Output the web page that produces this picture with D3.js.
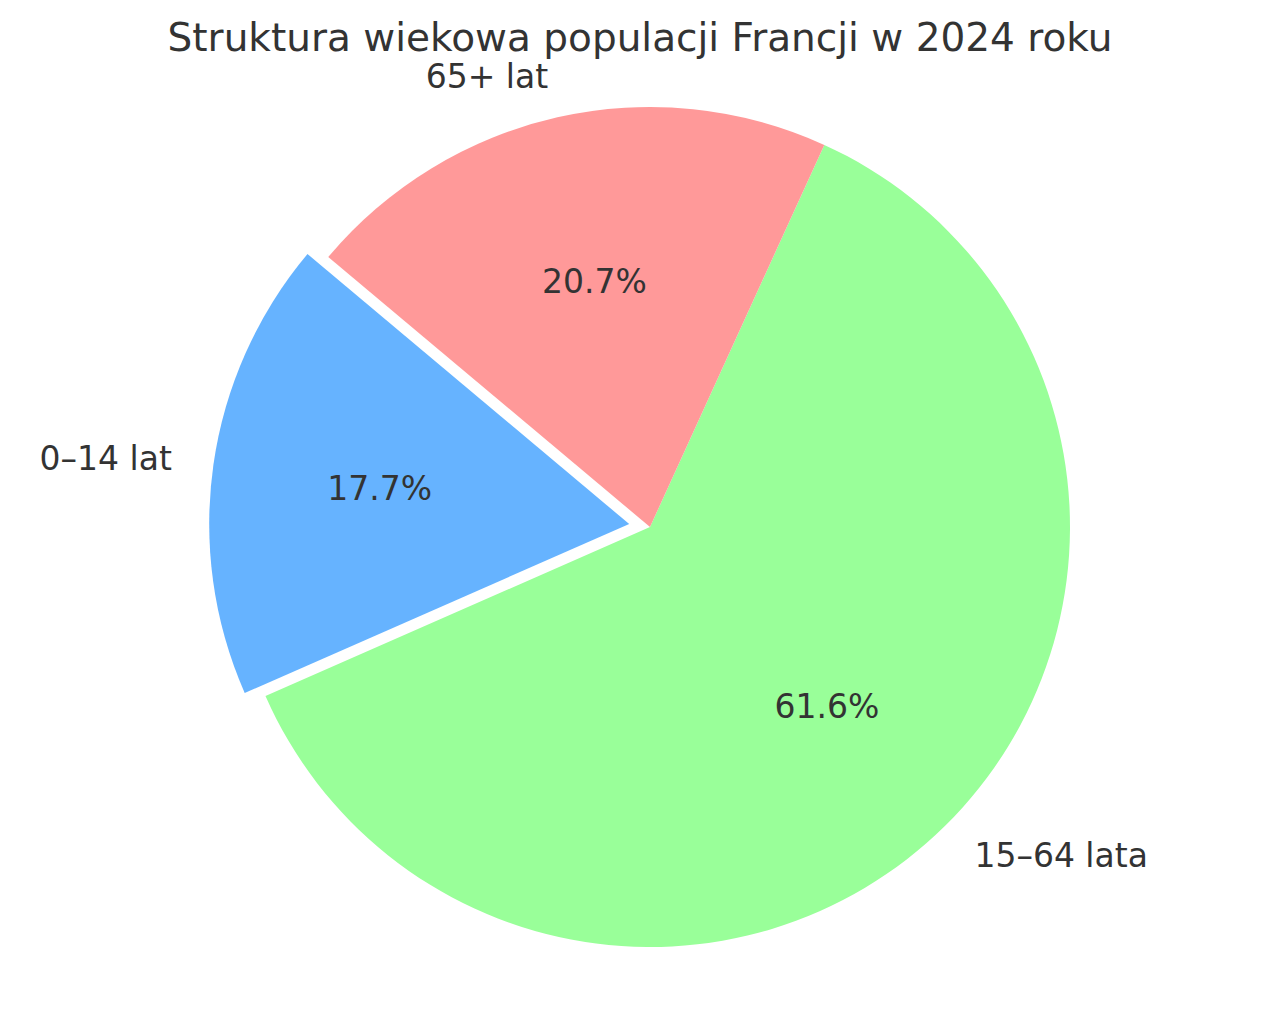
<!DOCTYPE html>
<html><head><meta charset="utf-8">
<script src="https://cdn.jsdelivr.net/npm/d3@7"></script>
<style>body{margin:0;background:#fff}svg{display:block}text{font-family:"DejaVu Sans",sans-serif;fill:#333}</style>
</head><body>
<script>
const categories = ["0–14 lat", "15–64 lata", "65+ lat"];
const values = [17.7, 61.6, 20.7];
const colors = ["#66b3ff", "#99ff99", "#ff9999"];
const explode = [0.05, 0, 0];
const title = "Struktura wiekowa populacji Francji w 2024 roku";

const W = 1280, H = 1010, cx = 650, cy = 527, R = 420;
const svg = d3.select("body").append("svg").attr("width", W).attr("height", H);

// matplotlib: startangle 140 deg, counterclockwise
const total = d3.sum(values);
const angleScale = d3.scaleLinear().domain([0, total]).range([140, 140 + 360]);
let acc = 0;
const slices = values.map((v, i) => {
  const a0 = angleScale(acc); acc += v; const a1 = angleScale(acc);
  return {i, v, a0, a1, mid: (a0 + a1) / 2};
});
const rad = d => d * Math.PI / 180;
const toD3 = a => rad(90 - a);
const arc = d3.arc().innerRadius(0).outerRadius(R);

const g = svg.append("g");
slices.forEach(s => {
  const off = explode[s.i] * R;
  const dx = off * Math.cos(rad(s.mid)), dy = -off * Math.sin(rad(s.mid));
  const sx = cx + dx, sy = cy + dy;
  g.append("path")
    .attr("d", arc({startAngle: toD3(s.a1), endAngle: toD3(s.a0)}))
    .attr("transform", `translate(${sx},${sy})`)
    .attr("fill", colors[s.i]);
  const c = Math.cos(rad(s.mid)), sn = Math.sin(rad(s.mid));
  svg.append("text")
    .attr("x", sx + 0.6 * R * c).attr("y", sy - 0.6 * R * sn)
    .attr("text-anchor", "middle").attr("dominant-baseline", "central")
    .attr("font-size", 33).text(s.v.toFixed(1) + "%");
  svg.append("text")
    .attr("x", sx + 1.1 * R * c).attr("y", sy - 1.1 * R * sn)
    .attr("text-anchor", c < 0 ? "end" : "start").attr("dominant-baseline", "central")
    .attr("font-size", 33).text(categories[s.i]);
});

svg.append("text").attr("x", 640).attr("y", 37)
  .attr("text-anchor", "middle").attr("dominant-baseline", "central")
  .attr("font-size", 39).text(title);
</script>
</body></html>
